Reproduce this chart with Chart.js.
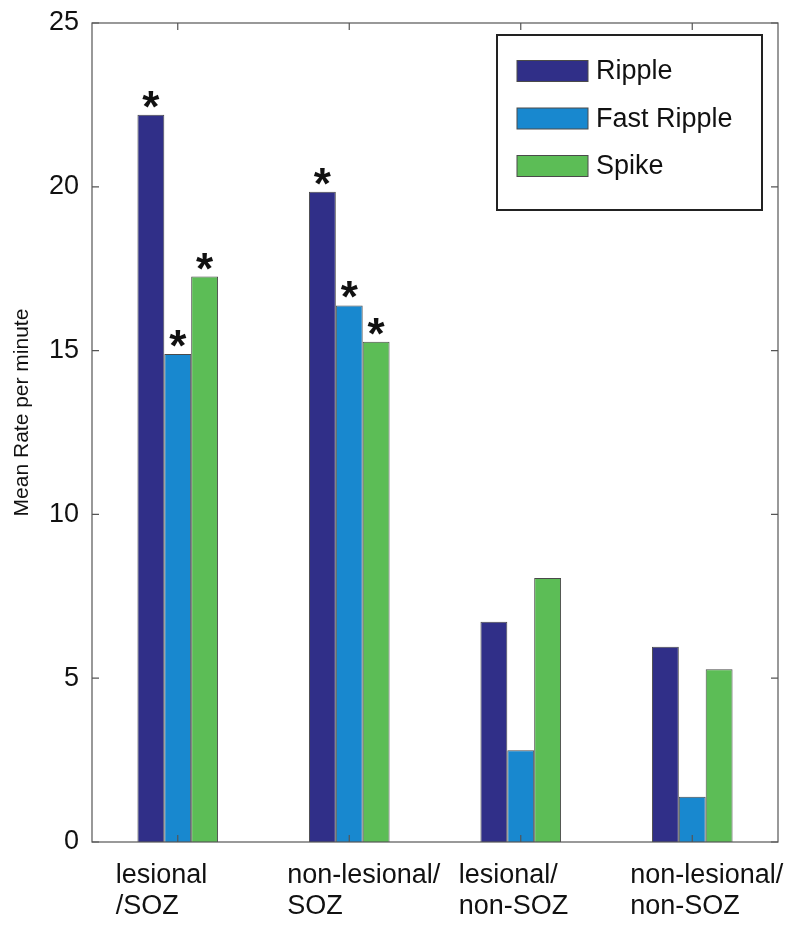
<!DOCTYPE html>
<html>
<head>
<meta charset="utf-8">
<script src="https://cdn.jsdelivr.net/npm/chart.js@4.4.0/dist/chart.umd.min.js"></script>
<style>
  html, body { margin: 0; padding: 0; background: #fff; }
  #wrap { width: 800px; height: 930px; }
</style>
</head>
<body>
<div id="wrap"><canvas id="myChart"></canvas></div>
<script>
const groups = [
  ['lesional', '/SOZ'],
  ['non-lesional/', 'SOZ'],
  ['lesional/', 'non-SOZ'],
  ['non-lesional/', 'non-SOZ'],
];
const seriesNames = ['Ripple', 'Fast Ripple', 'Spike'];
const ripple = [22.2, 19.85, 6.72, 5.96];
const fastRipple = [14.9, 16.38, 2.8, 1.38];
const spike = [17.26, 15.27, 8.06, 5.27];
// significance marks (asterisks) per series
const rippleStar = [true, true, false, false];
const fastStar = [true, true, false, false];
const spikeStar = [true, true, false, false];
const yTicks = [0, 5, 10, 15, 20, 25];

const colors = ['#302f88', '#1888cf', '#5cbd56'];
const FONT = '"Liberation Sans", Arial, Helvetica, sans-serif';

const data = {
  labels: groups,
  datasets: [
    { label: seriesNames[0], data: ripple, stars: rippleStar, backgroundColor: colors[0] },
    { label: seriesNames[1], data: fastRipple, stars: fastStar, backgroundColor: colors[1] },
    { label: seriesNames[2], data: spike, stars: spikeStar, backgroundColor: colors[2] },
  ].map(d => Object.assign(d, { borderColor: '#4a4a4a', borderWidth: 1, borderSkipped: 'bottom' }))
};

// frame, inward ticks, asterisks, legend, y title
const matlabLook = {
  id: 'matlabLook',
  afterDatasetsDraw(chart) {
    const ctx = chart.ctx;
    const a = chart.chartArea;
    const x = chart.scales.x, y = chart.scales.y;
    ctx.save();
    // asterisks
    ctx.fillStyle = '#111';
    ctx.font = 'bold 44px ' + FONT;
    ctx.textAlign = 'center';
    ctx.textBaseline = 'alphabetic';
    chart.data.datasets.forEach((ds, i) => {
      chart.getDatasetMeta(i).data.forEach((bar, j) => {
        if (ds.stars[j]) ctx.fillText('*', bar.x, bar.y + 7);
      });
    });
    // frame
    ctx.strokeStyle = '#555';
    ctx.lineWidth = 1.2;
    ctx.strokeRect(a.left, a.top, a.right - a.left, a.bottom - a.top);
    ctx.beginPath();
    yTicks.forEach(v => {
      const py = y.getPixelForValue(v);
      ctx.moveTo(a.left, py); ctx.lineTo(a.left + 7, py);
      ctx.moveTo(a.right, py); ctx.lineTo(a.right - 7, py);
    });
    groups.forEach((g, j) => {
      const px = x.getPixelForValue(j);
      ctx.moveTo(px, a.top); ctx.lineTo(px, a.top + 7);
      ctx.moveTo(px, a.bottom); ctx.lineTo(px, a.bottom - 7);
    });
    ctx.stroke();
    // y title
    ctx.save();
    ctx.translate(22, (a.top + a.bottom) / 2 - 20);
    ctx.rotate(-Math.PI / 2);
    ctx.font = '21px ' + FONT;
    ctx.textAlign = 'center';
    ctx.textBaseline = 'middle';
    ctx.fillStyle = '#111';
    ctx.fillText('Mean Rate per minute', 0, 0);
    ctx.restore();
    // legend box
    const lx = 497, ly = 35, lw = 265, lh = 175;
    ctx.fillStyle = '#fff';
    ctx.fillRect(lx, ly, lw, lh);
    ctx.strokeStyle = '#222';
    ctx.lineWidth = 2;
    ctx.strokeRect(lx, ly, lw, lh);
    ctx.font = '27px ' + FONT;
    ctx.textAlign = 'left';
    ctx.textBaseline = 'middle';
    chart.data.datasets.forEach((ds, i) => {
      const ry = ly + 36 + i * 47.5;
      ctx.fillStyle = ds.backgroundColor;
      ctx.fillRect(lx + 20, ry - 10.5, 71, 21);
      ctx.strokeStyle = '#4a4a4a';
      ctx.lineWidth = 1;
      ctx.strokeRect(lx + 20, ry - 10.5, 71, 21);
      ctx.fillStyle = '#111';
      ctx.fillText(ds.label, lx + 99, ry + 1);
    });
    ctx.restore();
  }
};

const config = {
  type: 'bar',
  data: data,
  options: {
    responsive: true,
    maintainAspectRatio: false,
    animation: false,
    layout: { padding: { top: 23, right: 22, left: 0, bottom: 0 } },
    plugins: { legend: { display: false }, tooltip: { enabled: false } },
    datasets: { bar: { categoryPercentage: 0.47, barPercentage: 1 } },
    scales: {
      x: {
        grid: { display: false },
        border: { display: false },
        ticks: {
          color: '#111',
          font: { family: FONT, size: 27, lineHeight: 1.15 },
          align: 'start',
          labelOffset: -62,
          padding: 10,
          maxRotation: 0,
          autoSkip: false
        },
        afterFit(s) { s.height = 88; s.paddingLeft = 0; s.paddingRight = 0; }
      },
      y: {
        min: 0,
        max: 25,
        grid: { display: false },
        border: { display: false },
        ticks: {
          stepSize: 5,
          color: '#111',
          font: { family: FONT, size: 27 },
          padding: 5
        },
        afterFit(s) { s.width = 92; s.paddingTop = 0; s.paddingBottom = 0; }
      }
    }
  },
  plugins: [matlabLook]
};

const myChart = new Chart(document.getElementById('myChart'), config);
</script>
</body>
</html>
